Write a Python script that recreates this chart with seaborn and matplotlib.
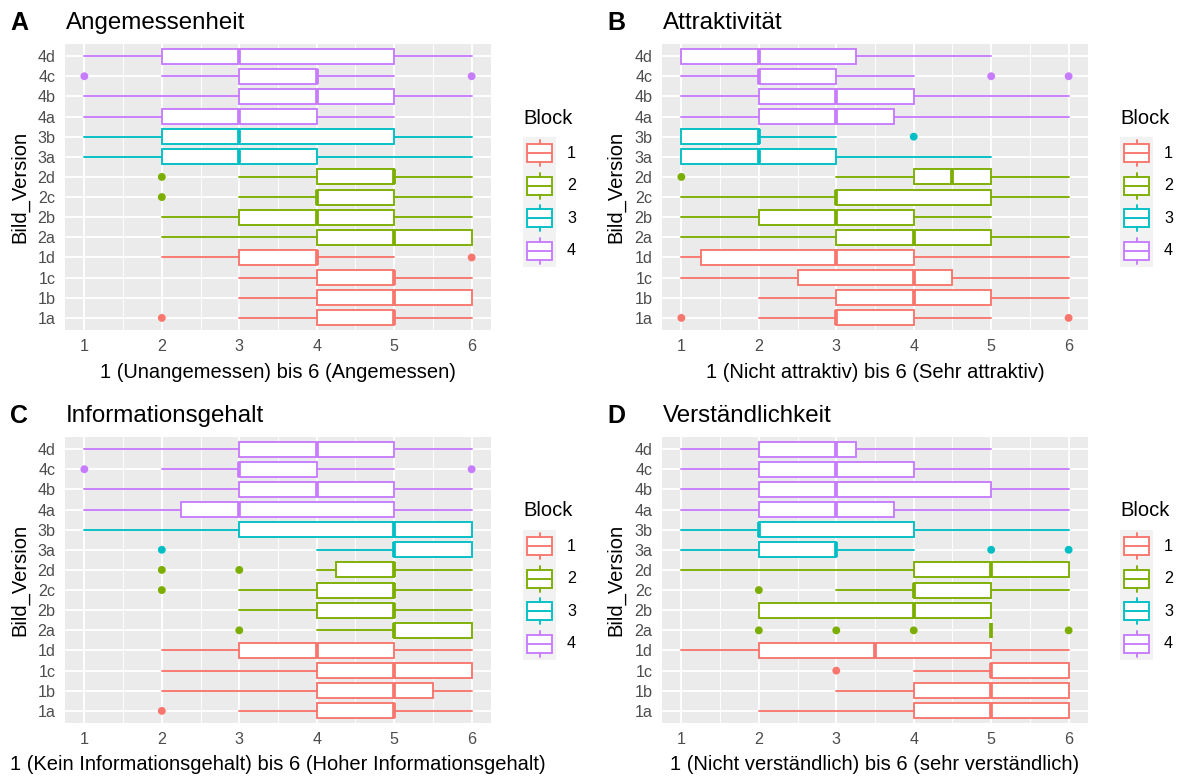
import numpy as np
import pandas as pd
import matplotlib
matplotlib.use("Agg")
import matplotlib.pyplot as plt
import seaborn as sns

# ---------------- data ----------------
versions = ["1a", "1b", "1c", "1d", "2a", "2b", "2c", "2d", "3a", "3b", "4a", "4b", "4c", "4d"]
blocks = ["1", "1", "1", "1", "2", "2", "2", "2", "3", "3", "4", "4", "4", "4"]
block_levels = ["1", "2", "3", "4"]
block_colors = ["#F8766D", "#7CAE00", "#00BFC4", "#C77CFF"]

# Panel A: Angemessenheit
A_lo  = [3, 3, 3, 2, 2, 2, 3, 3, 1, 1, 1, 1, 2, 1]
A_q1  = [4, 4, 4, 3, 4, 3, 4, 4, 2, 2, 2, 3, 3, 2]
A_med = [5, 5, 5, 4, 5, 4, 4, 5, 3, 3, 3, 4, 4, 3]
A_q3  = [5, 6, 5, 4, 6, 5, 5, 5, 4, 5, 4, 5, 4, 5]
A_hi  = [6, 6, 6, 5, 6, 6, 6, 6, 6, 6, 5, 6, 5, 6]
A_out_ver = ["1a", "1d", "2c", "2d", "4c", "4c"]
A_out_val = [2, 6, 2, 2, 1, 6]

# Panel B: Attraktivität
B_lo  = [2, 2, 1, 1, 1, 1, 1, 3, 1, 1, 1, 1, 1, 1]
B_q1  = [3, 3, 2.5, 1.25, 3, 2, 3, 4, 1, 1, 2, 2, 2, 1]
B_med = [3, 4, 4, 3, 4, 3, 3, 4.5, 2, 2, 3, 3, 2, 2]
B_q3  = [4, 5, 4.5, 4, 5, 4, 5, 5, 3, 2, 3.75, 4, 3, 3.25]
B_hi  = [5, 6, 6, 6, 6, 5, 6, 6, 5, 3, 6, 6, 4, 5]
B_out_ver = ["1a", "1a", "2d", "3b", "4c", "4c"]
B_out_val = [1, 6, 1, 4, 5, 6]

# Panel C: Informationsgehalt
C_lo  = [3, 2, 2, 2, 4, 3, 3, 4, 4, 1, 1, 1, 2, 1]
C_q1  = [4, 4, 4, 3, 5, 4, 4, 4.25, 5, 3, 2.25, 3, 3, 3]
C_med = [5, 5, 5, 4, 5, 5, 5, 5, 5, 5, 3, 4, 3, 4]
C_q3  = [5, 5.5, 6, 5, 6, 5, 5, 5, 6, 6, 5, 5, 4, 5]
C_hi  = [6, 6, 6, 6, 6, 6, 6, 6, 6, 6, 6, 6, 5, 6]
C_out_ver = ["1a", "2a", "2c", "2d", "2d", "3a", "4c", "4c"]
C_out_val = [2, 3, 2, 2, 3, 2, 1, 6]

# Panel D: Verständlichkeit
D_lo  = [2, 3, 4, 1, 5, 2, 3, 1, 1, 1, 1, 1, 1, 1]
D_q1  = [4, 4, 5, 2, 5, 2, 4, 4, 2, 2, 2, 2, 2, 2]
D_med = [5, 5, 5, 3.5, 5, 4, 4, 5, 3, 2, 3, 3, 3, 3]
D_q3  = [6, 6, 6, 5, 5, 5, 5, 6, 3, 4, 3.75, 5, 4, 3.25]
D_hi  = [6, 6, 6, 6, 5, 5, 6, 6, 4, 6, 6, 6, 6, 5]
D_out_ver = ["1c", "2a", "2a", "2a", "2a", "2c", "3a", "3a"]
D_out_val = [3, 2, 3, 4, 6, 2, 5, 6]

panels = [
    ("A", "Angemessenheit", "1 (Unangemessen) bis 6 (Angemessen)",
     A_lo, A_q1, A_med, A_q3, A_hi, A_out_ver, A_out_val),
    ("B", "Attraktivität", "1 (Nicht attraktiv) bis 6 (Sehr attraktiv)",
     B_lo, B_q1, B_med, B_q3, B_hi, B_out_ver, B_out_val),
    ("C", "Informationsgehalt", "1 (Kein Informationsgehalt) bis 6 (Hoher Informationsgehalt)",
     C_lo, C_q1, C_med, C_q3, C_hi, C_out_ver, C_out_val),
    ("D", "Verständlichkeit", "1 (Nicht verständlich) bis 6 (sehr verständlich)",
     D_lo, D_q1, D_med, D_q3, D_hi, D_out_ver, D_out_val),
]

# ---------------- style ----------------
sns.set_theme(style="darkgrid", rc={
    "axes.facecolor": "#EBEBEB",
    "grid.color": "white",
    "axes.edgecolor": "none",
})
plt.rcParams["font.family"] = ["Liberation Sans", "DejaVu Sans"]

W, H = 1177, 778
fig = plt.figure(figsize=(W / 100, H / 100), dpi=100)
fig.patch.set_facecolor("white")


def rect(l, t, r, b):
    return [l / W, 1 - b / H, (r - l) / W, (b - t) / H]


# panel pixel boxes (left, top, right, bottom)
boxes = [(65, 44, 491, 330), (662, 44, 1088, 330), (65, 437, 491, 723), (662, 437, 1088, 723)]
tag_x = [10, 607, 10, 607]
ylab_x = [20, 616, 20, 616]

LW = 1.35
pal = dict(zip(block_levels, block_colors))
pos_of = {v: i + 1 for i, v in enumerate(versions)}

for (tag, title, xlabel, lo, q1, med, q3, hi, out_ver, out_val), (l, t, r, b), tx, yx in zip(
        panels, boxes, tag_x, ylab_x):
    ax = fig.add_axes(rect(l, t, r, b))
    ax.set_xlim(0.75, 6.25)
    ax.set_ylim(0.4, len(versions) + 0.6)
    ax.set_axisbelow(True)
    ax.set_xticks([1, 2, 3, 4, 5, 6])
    ax.set_xticks([1.5, 2.5, 3.5, 4.5, 5.5], minor=True)
    ax.set_yticks(range(1, len(versions) + 1))
    ax.set_yticklabels(versions)
    ax.grid(which="major", color="white", linewidth=1.3)
    ax.grid(which="minor", axis="x", color="white", linewidth=0.65)
    ax.grid(which="minor", axis="y", visible=False)
    for s in ax.spines.values():
        s.set_visible(False)
    ax.tick_params(axis="both", which="major", length=4.3, width=1.2, color="#333333",
                   labelsize=11.6, labelcolor="#4D4D4D", pad=2.5)
    ax.tick_params(which="minor", length=0)

    for i, v in enumerate(versions):
        c = pal[blocks[i]]
        st = [dict(med=med[i], q1=q1[i], q3=q3[i], whislo=lo[i], whishi=hi[i], fliers=[])]
        kw = dict(positions=[i + 1], widths=0.75, patch_artist=True, showcaps=False,
                  showfliers=False, manage_ticks=False,
                  boxprops=dict(facecolor="white", edgecolor=c, linewidth=LW),
                  whiskerprops=dict(color=c, linewidth=LW),
                  medianprops=dict(color=c, linewidth=2 * LW, solid_capstyle="butt"))
        try:
            ax.bxp(st, orientation="horizontal", **kw)
        except TypeError:
            ax.bxp(st, vert=False, **kw)

    out_df = pd.DataFrame({
        "value": out_val,
        "pos": [pos_of[v] for v in out_ver],
        "Block": [blocks[versions.index(v)] for v in out_ver],
    })
    sns.scatterplot(data=out_df, x="value", y="pos", hue="Block", palette=pal,
                    hue_order=block_levels, s=32, linewidth=0, legend=False,
                    ax=ax, zorder=4, clip_on=False)
    ax.set_xlim(0.75, 6.25)
    ax.set_ylim(0.4, len(versions) + 0.6)
    ax.set_xlabel("")
    ax.set_ylabel("")

    # texts
    fig.text(tx / W, 1 - (t - 21) / H, tag, fontsize=18, fontweight="bold",
             ha="left", va="center", color="black")
    fig.text((l + 1) / W, 1 - (t - 21) / H, title, fontsize=17.4,
             ha="left", va="center", color="black")
    fig.text(((l + r) / 2) / W, 1 - (b + 42) / H, xlabel, fontsize=14.5,
             ha="center", va="center", color="black")
    fig.text(yx / W, 1 - ((t + b) / 2) / H, "Bild_Version", fontsize=14.5,
             rotation=90, ha="center", va="center", color="black")

    # legend (Block)
    lg_l = r + 32
    fig.text(lg_l / W, 1 - (t + 74) / H, "Block", fontsize=14.5,
             ha="left", va="center", color="black")
    lax = fig.add_axes(rect(lg_l, t + 93, lg_l + 33, t + 223))
    lax.set_facecolor("#F2F2F2")
    lax.set_xlim(0, 1)
    lax.set_ylim(4, 0)
    lax.grid(False)
    lax.set_xticks([])
    lax.set_yticks([])
    for s in lax.spines.values():
        s.set_visible(False)
    for k, (bl, c) in enumerate(zip(block_levels, block_colors)):
        cy = k + 0.5
        st = [dict(med=cy, q1=cy - 0.28, q3=cy + 0.28, whislo=cy - 0.4, whishi=cy + 0.4, fliers=[])]
        kw = dict(positions=[0.5], widths=0.76, patch_artist=True, showcaps=False,
                  showfliers=False, manage_ticks=False,
                  boxprops=dict(facecolor="white", edgecolor=c, linewidth=LW),
                  whiskerprops=dict(color=c, linewidth=LW),
                  medianprops=dict(color=c, linewidth=LW))
        lax.bxp(st, **kw)
        lax.set_xlim(0, 1)
        lax.set_ylim(4, 0)
        fig.text((lg_l + 44) / W, 1 - (t + 93 + 32.5 * cy) / H, bl, fontsize=11.6,
                 ha="left", va="center", color="black")

fig.savefig("out.png", dpi=100, facecolor="white")
